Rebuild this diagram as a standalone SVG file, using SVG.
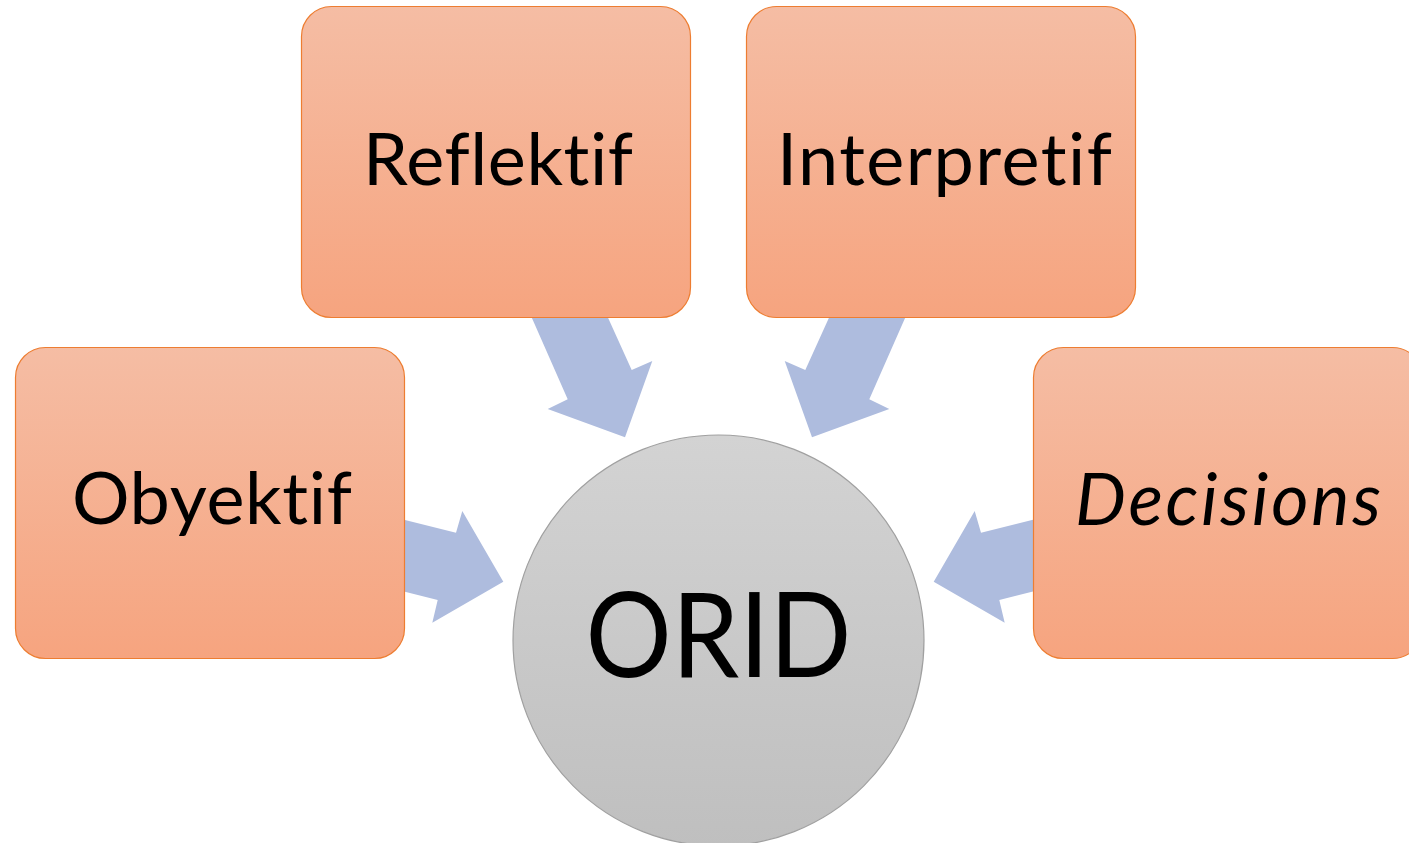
<svg xmlns="http://www.w3.org/2000/svg" width="1409" height="843" viewBox="0 0 1409 843">
  <defs>
    <linearGradient id="boxGrad" x1="0" y1="0" x2="0" y2="1">
      <stop offset="0" stop-color="#F5BDA4"/>
      <stop offset="1" stop-color="#F6A47F"/>
    </linearGradient>
    <linearGradient id="circGrad" x1="0" y1="0" x2="0" y2="1">
      <stop offset="0" stop-color="#D3D3D3"/>
      <stop offset="1" stop-color="#BFBFBF"/>
    </linearGradient>
  </defs>
  <style>
    .box { fill: url(#boxGrad); stroke: #ED7D31; stroke-width: 1.2; }
    .arrow { fill: #AEBCDE; stroke: none; }
    .lbl, .hublbl { font-family: Lato, "Liberation Sans", sans-serif; fill: #000; text-anchor: middle; font-variant-ligatures: none; font-feature-settings: "liga" 0, "clig" 0; }
    .lbl { font-size: 72px; }
    .hub { fill: url(#circGrad); stroke: #A0A0A0; stroke-width: 1.2; }
    .hublbl { font-size: 118px; }
  </style>
  <rect width="1409" height="843" fill="#FFFFFF"/>
  <g id="connectors">
    <polygon class="arrow" points="524,300 600,300 631.7,370 652.3,361 625,437.3 547.7,409 567.7,399.3"/>
    <polygon class="arrow" points="913,300 837,300 805.3,370 784.7,361 812,437.3 889.3,409 869.3,399.3"/>
    <polygon class="arrow" points="390,516.3 456,532.7 462.3,511 503.3,581.7 432.3,622.7 437.7,600 390,588"/>
    <polygon class="arrow" points="1047,516.3 981,532.7 974.7,511 933.7,581.7 1004.7,622.7 999.3,600 1047,588"/>
  </g>
  <g id="node-orid">
    <circle class="hub" cx="718.5" cy="640.5" r="205.5"/>
    <text class="hublbl" x="718.5" y="677" textLength="266" lengthAdjust="spacingAndGlyphs">ORID</text>
  </g>
  <g id="node-reflektif">
    <rect class="box" x="301.5" y="6.5" width="389" height="311" rx="30"/>
    <text class="lbl" x="498" y="185" textLength="270">Reflektif</text>
  </g>
  <g id="node-interpretif">
    <rect class="box" x="746.5" y="6.5" width="389" height="311" rx="30"/>
    <text class="lbl" x="944.5" y="185" textLength="335">Interpretif</text>
  </g>
  <g id="node-obyektif">
    <rect class="box" x="15.5" y="347.5" width="389" height="311" rx="30"/>
    <text class="lbl" x="212" y="524" textLength="280">Obyektif</text>
  </g>
  <g id="node-decisions">
    <rect class="box" x="1033.5" y="347.5" width="389" height="311" rx="30"/>
    <text class="lbl" x="1228" y="525" font-style="italic" textLength="306">Decisions</text>
  </g>
</svg>
